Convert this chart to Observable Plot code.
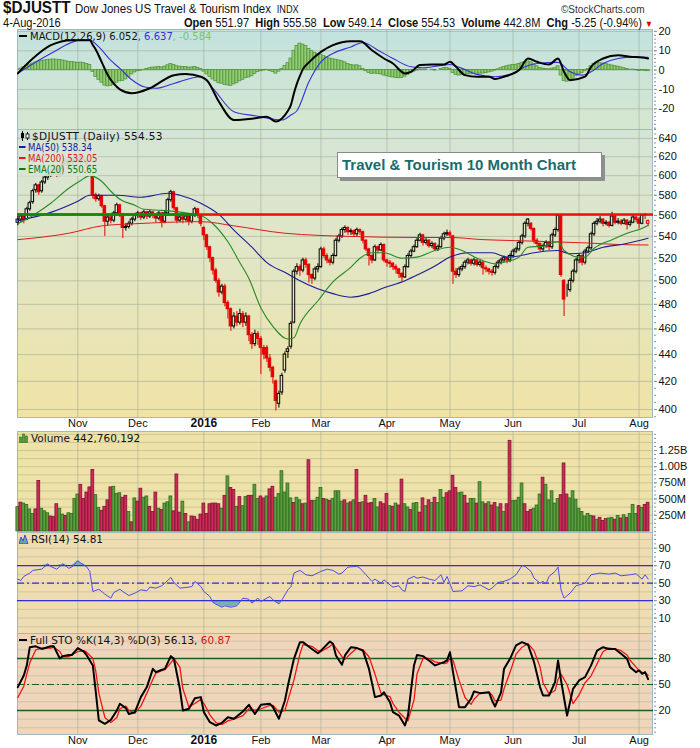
<!DOCTYPE html>
<html>
<head>
<meta charset="utf-8">
<script src="https://cdn.jsdelivr.net/npm/d3@7"></script>
<script src="https://cdn.jsdelivr.net/npm/@observablehq/plot@0.6"></script>
<style>
  html,body{margin:0;padding:0;background:#fff;}
  #chart{position:relative;width:700px;height:748px;overflow:hidden;background:#fff;}
  .bg{position:absolute;left:17px;width:636px;box-sizing:border-box;border:1px solid #a3b9c2;}
  .hdr{position:absolute;white-space:nowrap;font-family:"Liberation Sans Narrow","Liberation Sans",Arial,sans-serif;color:#111;}
  .leg{position:absolute;white-space:nowrap;font:10.5px "DejaVu Sans",Verdana,sans-serif;color:#111;line-height:11px;}
  .dash{display:inline-block;width:8px;height:2px;vertical-align:middle;margin-right:3px;position:relative;top:-1px;}
  .title{position:absolute;left:337px;top:152px;width:265px;height:26px;box-sizing:border-box;background:#fff;border:1px solid #8a8a8a;box-shadow:3px 3px 0 #8f8f8f;font:bold 15px "Liberation Sans",Arial,sans-serif;color:#1b6c6c;line-height:24px;padding-left:4px;white-space:nowrap;}
</style>
</head>
<body>
<div id="chart"></div>
<script>
// ---------------- DATA (trading day index 0 = 5-Oct-2015 ... 210 = 4-Aug-2016) ----------------
const monthTickDays = [20, 40, 62, 81, 101, 123, 144, 165, 187, 207];
const monthTickLabels = ["Nov", "Dec", "2016", "Feb", "Mar", "Apr", "May", "Jun", "Jul", "Aug"];
const boldMonthLabel = "2016";

const open = [553,556,559,556,566,573,585,590,584,593, 598,600,603,606,601,607,612,615,610,616,
  618,614,619,616,611,600,580,576,579,569, 554,558,555,562,570,561,548,549,552,556,
  560,562,558,563,559,563,560,557,562,554, 562,575,583,567,555,558,556,559,554,560,
  566,560,548,541,530,520,509,500,490,495, 481,476,462,470,465,472,465,470,455,448,
  456,452,445,445,437,430,420,404,412,428, 442,446,465,508,512,509,518,514,505,502,
  510,512,528,522,518,516,522,536,540,546, 548,544,545,542,546,544,536,528,522,518,
  530,527,532,518,516,515,512,510,506,503, 512,522,526,530,536,541,534,536,531,533,
  528,530,538,542,543,540,508,505,510,512, 516,518,515,518,514,516,511,510,508,507,
  512,516,518,520,518,522,526,528,534,540, 552,552,547,536,533,528,531,534,530,541,
  546,560,500,492,492,500,508,518,522,516, 526,529,542,552,554,556,552,553,550,559,
  553,554,552,555,551,553,558,556,552,560, 551.97];
const high = [559,561,560,568,574,586,592,591,595,600, 602,605,608,607,609,614,618,616,618,621,
  620,622,621,617,612,603,582,581,580,570, 560,560,564,572,571,562,552,554,558,562,
  564,563,565,564,565,564,561,564,563,564, 577,585,584,568,560,560,561,560,562,568,
  567,561,549,542,531,521,511,502,497,497, 483,477,473,474,476,474,473,471,457,459,
  458,454,447,447,440,431,421,413,426,442, 446,466,510,515,514,520,520,515,506,512,
  515,530,530,524,520,524,538,542,548,550, 549,547,546,548,547,545,537,529,523,532,
  531,534,533,519,518,516,514,511,507,514, 524,528,532,538,543,542,538,537,535,534,
  532,540,544,546,545,541,511,512,514,518, 520,519,520,519,518,517,513,511,510,514,
  518,520,522,521,524,528,530,536,542,554, 557,553,548,538,534,533,536,535,543,548,
  561,561,501,497,502,510,520,524,523,528, 531,544,554,557,559,557,555,554,563,560,
  557,556,557,556,555,561,559,558,561,562, 555.58];
const low = [550,553,552,555,564,571,582,580,582,591, 595,598,600,598,599,605,610,607,609,614,
  611,612,613,609,604,576,573,574,567,540, 550,552,553,560,558,538,545,547,550,554,
  557,555,556,556,557,557,553,555,548,552, 561,573,565,552,553,552,554,550,552,558,
  557,549,536,527,516,505,498,486,488,478, 468,458,460,462,463,461,462,450,444,446,
  447,425,436,434,427,418,399,401,410,426, 437,444,464,505,504,507,511,498,497,500,
  507,511,520,515,513,514,521,534,538,543, 541,541,539,540,541,533,526,513,515,517,
  524,526,516,512,511,509,506,502,499,502, 511,520,525,529,535,531,532,529,529,526,
  526,529,536,540,538,497,502,503,508,510, 514,513,513,512,512,505,507,505,504,505,
  510,514,516,515,516,520,524,526,532,538, 549,545,533,530,526,526,529,527,528,539,
  544,503,470,486,490,498,506,515,513,514, 524,527,540,550,552,549,550,548,549,551,
  551,550,551,546,549,552,553,547,551,556, 549.14];
const close = [556,559,555,566,572,584,590,583,593,598, 600,603,606,601,607,612,615,610,616,618,
  614,619,616,611,607,580,576,579,569,554, 558,555,562,570,561,548,549,552,556,560,
  562,558,563,559,563,560,557,562,554,562, 575,583,567,555,558,556,559,554,560,566,
  560,552,541,530,520,509,500,490,495,481, 476,462,470,465,472,465,470,455,448,456,
  452,445,440,437,430,423,406,411,424,440, 444,464,508,512,509,518,514,505,502,510,
  512,528,522,518,516,522,536,540,546,548, 544,545,542,546,544,536,528,522,518,530,
  527,532,518,516,515,512,510,506,503,512, 522,526,530,536,541,534,536,531,533,528,
  530,538,542,543,541,508,505,510,512,516, 518,515,518,514,516,511,510,508,507,512,
  516,518,520,518,522,526,528,534,540,552, 556,547,536,533,528,531,534,530,541,546,
  560,505,484,492,500,508,518,522,516,526, 529,542,552,554,556,552,553,550,559,553,
  554,552,555,551,553,558,556,552,560,559.78, 554.53];

// volume in millions, and up (G) / down (R) colour of each bar
const volume = [375,445,430,410,340,270,340,780,350,310, 280,230,220,420,350,260,240,280,270,500,
  570,720,500,600,680,950,560,360,320,380, 480,680,690,580,590,520,550,300,140,510,
  460,660,520,540,380,300,600,350,330,430, 450,540,310,880,290,460,270,140,230,220,
  180,260,430,270,420,430,430,420,350,550, 850,670,640,380,530,390,530,550,550,720,
  500,540,510,540,650,690,520,580,930,600, 740,510,440,520,480,420,430,1100,470,470,
  520,670,500,490,470,500,620,620,460,480, 430,450,480,950,440,450,550,430,440,500,
  370,450,420,580,390,380,430,400,800,420, 370,330,430,440,290,510,390,480,440,520,
  440,640,520,590,620,860,670,590,600,550, 430,500,500,430,760,450,420,450,400,440,
  370,420,300,420,1400,470,470,520,740,420, 300,330,350,400,570,830,720,480,620,430,
  500,560,1050,570,510,620,490,350,300,230, 270,240,230,180,210,160,190,200,210,180,
  240,200,250,210,270,410,270,390,360,410, 442.76];
const volumeDir =
  "GRGGGGRRGG" + "GRRRGGRGGG" + "GRRRRRGGRR" + "RRGGGRRGRG" + "RRGGRRRGRG" + "GGRRRGRGRR" +
  "RRRRRRRRGR" + "GRRGRGGRRG" + "GRRGRRGGGG" + "GGRGGRGRRG" + "GGRGRGGGGR" + "GRGRRGRRRG" +
  "GRRRGRGRRG" + "GRGGRRGRGR" + "GGGRRRRGGR" + "RGGRGGRGRR" + "GRGRRGGGGR" + "RRGGGRGGGG" +
  "GRRRGGGGGG" + "GGRGRRRGGR" + "GRGRGGGRGR" + "R";

// MACD(12,26,9): histogram per day, MACD and signal lines read at sample days
const macdHist = [0.0,0.8,1.5,2.2,2.8,3.4,4.0,4.4,4.8,5.0, 5.2,5.4,5.5,5.4,5.3,5.0,4.6,4.3,4.2,4.0,
  3.8,3.9,3.6,3.2,2.6,-1.0,-3.5,-5.0,-6.5,-8.0, -8.4,-8.2,-7.6,-6.5,-5.8,-5.6,-4.8,-3.5,-2.2,-1.2,
  -0.6,-0.3,0.2,0.6,1.0,1.3,1.4,1.6,1.4,1.8, 2.5,3.2,2.6,2.0,1.8,1.6,1.6,1.3,1.4,1.6,
  1.2,0.5,-0.8,-2.2,-3.6,-4.8,-5.8,-6.8,-7.0,-7.6, -7.9,-8.2,-7.4,-6.8,-5.8,-5.0,-4.2,-3.8,-3.2,-2.0,
  -1.0,-0.6,-0.2,0.2,-0.5,-1.0,-1.8,-0.8,0.6,2.2, 3.6,6.0,10.0,12.5,13.7,13.2,12.4,11.0,9.8,9.0,
  8.2,8.0,7.2,6.6,6.0,5.6,5.4,5.0,4.6,4.0, 3.2,2.6,2.4,2.5,2.0,0.6,-0.6,-1.5,-2.0,-1.8,
  -2.0,-2.2,-2.8,-3.2,-3.5,-3.8,-4.0,-4.2,-4.0,-3.4, -2.5,-1.6,-0.8,-0.2,0.4,0.2,0.3,0.0,0.2,-0.2,
  0.0,0.5,1.0,1.2,0.6,-1.5,-2.6,-2.8,-2.6,-2.3, -2.0,-2.2,-2.0,-2.2,-1.8,-1.8,-1.6,-1.2,-0.8,-0.2,
  0.4,1.0,1.6,2.0,2.4,2.6,2.8,3.2,3.8,4.3, 4.5,4.0,3.0,2.0,1.2,0.8,0.6,0.4,0.8,1.0,
  2.0,-2.8,-5.6,-6.0,-5.2,-4.4,-3.2,-2.2,-1.6,-0.6, 0.6,2.0,3.2,3.5,3.6,3.4,3.2,2.8,2.4,2.0,
  1.8,1.4,1.0,0.6,0.2,0.3,-0.1,-0.4,-0.2,-0.4, -0.584];
const macdDay = [0,5,11,18,24,25,26,28,30,32,34,38,44,52,56,61,63,67,72,79,83,86,88,90,91,92,93,94,95,97,101,105,111,114,118,122,125,129,131,134,138,142,144,146,149,153,157,159,162,167,170,173,177,180,182,184,189,191,195,200,204,208,210];
const macdVal = [-1.7,6.0,12.9,15.5,15.5,13.0,10.5,4.0,-2.6,-7.0,-10.0,-12.0,-9.4,-2.6,-2.0,-3.4,-5.2,-16.3,-25.8,-24.9,-24.1,-26.6,-25.0,-21.0,-18.0,-12.0,-7.0,-3.0,0.5,4.0,9.4,12.9,14.9,14.9,10.3,6.0,3.4,-1.7,-0.9,2.6,2.9,2.9,4.3,1.7,-2.6,-3.4,-3.4,-4.6,-3.4,0.0,6.0,4.3,2.9,6.0,-0.9,-5.2,-3.4,1.7,6.0,7.7,6.9,6.5,6.052];
const signalDay = [0,11,21,24,27,31,34,38,42,46,52,61,65,72,79,88,91,93,97,101,105,111,115,120,125,131,135,140,144,148,153,159,164,169,173,180,184,188,191,195,200,205,210];
const signalVal = [-1.7,8.6,15.5,15.5,12.0,5.0,0.9,-5.0,-8.6,-9.4,-6.9,-3.4,-9.4,-21.5,-23.6,-25.8,-23.2,-21.0,-6.0,4.3,8.6,12.0,14.3,10.3,6.0,1.7,1.2,2.2,2.9,0.9,-2.2,-3.4,-2.2,1.7,3.4,4.0,-0.9,-2.6,-0.9,3.4,6.0,6.7,6.637];

// moving averages read at sample days
const ema20Day = [0,5,11,17,21,24,28,31,34,39,42,48,52,57,61,65,70,74,77,81,85,90,92,94,100,105,111,114,118,122,128,133,139,144,148,153,159,163,167,170,175,180,182,187,189,192,198,203,209,210];
const ema20Val = [552,560,572,587,595,600,594,584,576,570,566,565,564,562,560,552,535,516,502,477,462,452,453,464,483,499,512,520,525,525,520,521,527,530,527,520,515,517,521,530,531,535,527,521,521,529,537,543,549,550.65];
const ma50Day = [0,11,20,24,33,41,50,54,61,67,72,78,83,90,94,105,111,117,122,129,133,139,144,150,158,163,167,172,180,184,189,195,202,210];
const ma50Val = [555,563,574,580,580,578,582,580,572,561,546,530,516,506,500,489,486,489,494,500,505,513,521,525,525,521,522,525,527,524,525,530,533,538.34];
const ma200Day = [0,17,28,39,61,72,89,100,111,133,144,155,167,178,189,200,210];
const ma200Val = [537,543,550,552,554,550,543,541,540,539,539,537,536,535,534,532.5,532.05];
const resistanceLevel = 561;
const greenLineStartDay = 0, greenLineEndDay = 60;

// RSI(14)
const rsiDay = [0,1,2,4,5,8,10,11,13,15,17,18,20,21,23,24,25,27,29,31,32,34,35,37,39,41,43,44,46,48,49,51,52,54,56,58,59,61,62,64,65,67,68,69,71,73,75,77,78,80,81,84,85,87,88,90,91,92,94,96,98,101,103,105,107,108,110,113,114,116,118,119,121,122,124,125,127,128,129,130,132,133,135,137,139,141,142,143,145,148,150,152,154,157,158,160,162,164,166,168,169,171,172,174,175,176,177,179,180,181,182,184,186,189,191,194,197,199,201,204,206,208,209,210];
const rsiVal = [54.6,53,57.7,61.5,64.6,66,72,69,66,72,67,68.4,75.7,73,68.4,63.4,40.4,43,37.4,32.8,39.3,43,40.4,35.8,38.5,42.3,41.2,45.4,44.3,47,50,56.5,50.8,44.3,45,46,52,46,40.4,34.7,27.8,24,22.4,24,22.4,24,32.8,31.6,27,32.8,29,34.7,30.8,26.2,30.8,42.3,46,61.5,64.6,59.6,58.4,63.4,66,64.6,60.3,61.5,68.4,69.2,67.2,59.6,52,54.6,50,53.8,48,45.4,47,42.3,40.4,54.6,57.7,55.7,57,54.6,53,59.6,50.8,57.7,40.4,41.2,47,46,48,42.3,44.3,50.8,52,54.6,59.6,70,69.2,63.4,55.7,50,52,49.2,57.7,63.4,68.4,42.3,32.8,38.5,47,50,59.6,61.5,60.3,61.5,58.4,59.6,60.7,54.6,59.6,54.81];

// Full Stochastics %K(14,3) %D(3)
const stoDay = [0,2,3,4,6,8,11,12,14,15,17,18,20,22,23,25,26,27,29,31,33,34,36,37,39,41,43,45,46,48,49,51,52,54,55,57,59,61,62,64,66,68,70,72,75,77,79,81,84,85,87,89,90,92,94,95,98,100,101,104,105,106,108,109,111,113,115,117,119,121,122,124,125,127,129,130,132,133,135,137,139,142,143,144,145,147,149,151,152,154,157,158,159,161,162,164,166,168,170,172,174,175,177,179,180,181,183,185,187,189,191,193,195,197,199,201,203,204,206,207,208,209,210];
const stoK = [46.9,60.4,72,93,94,91,94,94,80,82.7,84,84,92,88,83.5,72,41,8.5,4.6,9.2,20,27.7,22.7,16,18,35.4,47,68,64.2,67,68,82.7,79.6,45,20,22,34.2,35.4,18,6.5,2.7,5.8,12.3,10.4,18.8,26.5,16,26.5,27.7,24,10.4,31.5,48.8,79.6,98.8,98.8,91,86,89,99.6,97,83.5,72.7,83.5,93,92,89,68,35.4,37.3,41,29.6,18,14.2,2.7,14.2,72,84,82.7,77.7,72,75.8,77.7,87.3,64.2,23.8,23.8,33.5,42,40,41,31.5,24.6,41,68,79.6,95,98.8,95.8,75.8,47,37.3,37.3,52.7,77.7,54.6,14.2,45,54.6,58.5,72,89,93,91,91,85.4,79.6,70,64.2,66.2,62.3,64.2,56.13];
const stoD = [35,48,62,75,90,92,92,93,88,82,82,84,88,89,87,80,65,40,12,6,12,22,25,20,17,25,40,56,63,66,67,75,80,70,45,24,28,33,28,15,6,4,8,10,14,22,20,22,26,26,18,20,32,55,85,96,94,89,88,94,97,92,82,79,86,92,90,82,62,40,38,36,28,18,11,8,32,62,80,80,76,74,75,80,78,55,35,27,33,40,41,38,31,32,45,64,85,93,97,89,70,52,39,43,56,62,50,28,38,52,60,74,88,92,91,89,84,78,70,66,64,63,60.87];

// tick values
const priceTicks = [400,420,440,460,480,500,520,540,560,580,600,620,640];
const macdTicks = [-20,-10,0,10,20];
const volumeTicks = [250,500,750,1000,1250];
const rsiTicks = [10,30,50,70,90];
const stoTicks = [20,50,80];

// ---------------- BUILD ----------------
const chart = document.getElementById("chart");
function addDiv(cls, style, html) {
  const d = document.createElement("div");
  d.className = cls;
  Object.assign(d.style, style);
  if (html != null) d.innerHTML = html;
  chart.appendChild(d);
  return d;
}
const X_DOMAIN = [-0.1, 211.8];
const GRID = "#9ea792";
const days = d3.range(close.length);
const pairs = (ds, vs) => ds.map((d, k) => ({d, v: vs[k]}));
const candles = days.map(i => {
  const up = i === 0 ? close[i] >= open[i] : close[i] >= close[i - 1];
  return {i, o: open[i], h: high[i], l: low[i], c: close[i], col: up ? "#000000" : "#e30000", filled: close[i] < open[i]};
});
const vols = days.map(i => ({i, v: volume[i], up: volumeDir[i] === "G"}));
const hist = days.map(i => ({i, v: macdHist[i]}));
const monthLabels = monthTickDays.map((d, k) => ({d, label: monthTickLabels[k]}));

const panels = {
  macd: {top: 29, h: 100, bg: "linear-gradient(#c3e2df, #d5e7cf)"},
  price: {top: 129, h: 288, bg: "linear-gradient(#d4e5d6 0%, #e2e6c4 45%, #f0e3a5 100%)"},
  vol: {top: 431, h: 101, bg: "#efe2a8"},
  rsi: {top: 532, h: 101, bg: "#f0dcb1"},
  sto: {top: 633, h: 101, bg: "#efd6bb"}
};
for (const k in panels) {
  const p = panels[k];
  addDiv("bg", {top: p.top + "px", height: (p.h + 1) + "px", background: p.bg});
}

function panelPlot(p, yOpts, marks, extraBottom = 0) {
  const svg = Plot.plot({
    width: 700, height: p.h + extraBottom,
    marginLeft: 17, marginRight: 47, marginTop: 0, marginBottom: extraBottom,
    x: {domain: X_DOMAIN, axis: null},
    y: {...yOpts, axis: null},
    color: {type: "identity"},
    style: {background: "transparent", fontFamily: "Liberation Sans, Arial, sans-serif", fontSize: "11px", color: "#111", overflow: "visible"},
    marks
  });
  svg.style.position = "absolute";
  svg.style.left = "0px";
  svg.style.top = p.top + "px";
  chart.appendChild(svg);
}
function rightAxis(ticks, fmt, minor) {
  return [
    Plot.axisY({anchor: "right", ticks: minor, tickSize: 2, tickFormat: () => "", stroke: "#7f98a3", label: null}),
    Plot.axisY({anchor: "right", ticks, tickSize: 3, tickPadding: 2, tickFormat: fmt, stroke: "#7f98a3", label: null, fontSize: 11})
  ];
}
const monthRules = Plot.ruleX(monthTickDays, {x: d => d, stroke: GRID, strokeOpacity: 0.55});
const monthText = [
  Plot.text(monthLabels, {x: "d", text: "label", filter: d => d.label !== boldMonthLabel, frameAnchor: "bottom", dy: 9, fontSize: 11, fill: "#111"}),
  Plot.text(monthLabels, {x: "d", text: "label", filter: d => d.label === boldMonthLabel, frameAnchor: "bottom", dy: 9, fontSize: 12, fontWeight: "bold", fill: "#111"})
];

// MACD panel
panelPlot(panels.macd, {domain: [-30.7, 21.0]}, [
  Plot.ruleY(macdTicks, {y: d => d, stroke: GRID, strokeOpacity: 0.55}),
  monthRules,
  Plot.rectY(hist, {x1: d => d.i - 0.5, x2: d => d.i + 0.5, y: "v", fill: "#92cd74", stroke: "#4d8d37", strokeWidth: 0.7}),
  Plot.line(pairs(signalDay, signalVal), {x: "d", y: "v", stroke: "#3a2fd6", strokeWidth: 1.1, curve: "monotone-x", clip: true}),
  Plot.line(pairs(macdDay, macdVal), {x: "d", y: "v", stroke: "#000", strokeWidth: 2, curve: "monotone-x", clip: true}),
  ...rightAxis(macdTicks, d => d, d3.range(-30, 21, 2))
]);

// Price panel
panelPlot(panels.price, {type: "log", domain: [394.5, 650]}, [
  Plot.ruleY(priceTicks, {y: d => d, stroke: GRID, strokeOpacity: 0.55}),
  monthRules,
  Plot.ruleX(candles, {x: "i", y1: d => Math.max(d.o, d.c), y2: "h", stroke: "col", strokeWidth: 1}),
  Plot.ruleX(candles, {x: "i", y1: "l", y2: d => Math.min(d.o, d.c), stroke: "col", strokeWidth: 1}),
  Plot.rect(candles, {x1: d => d.i - 0.42, x2: d => d.i + 0.42, y1: d => Math.min(d.o, d.c), y2: d => Math.max(d.o, d.c), fill: d => d.filled ? d.col : "none", stroke: "col", strokeWidth: 1}),
  Plot.line(pairs(ma200Day, ma200Val), {x: "d", y: "v", stroke: "#e01a1a", strokeWidth: 1, curve: "monotone-x"}),
  Plot.line(pairs(ma50Day, ma50Val), {x: "d", y: "v", stroke: "#1c1c96", strokeWidth: 1.1, curve: "monotone-x"}),
  Plot.line(pairs(ema20Day, ema20Val), {x: "d", y: "v", stroke: "#268a26", strokeWidth: 1.1, curve: "monotone-x"}),
  Plot.ruleY([resistanceLevel], {y: d => d, stroke: "#ee0f0f", strokeWidth: 2.5}),
  Plot.ruleY([{y: resistanceLevel, x1: greenLineStartDay, x2: greenLineEndDay}], {y: "y", x1: "x1", x2: "x2", stroke: "#0e8c0e", strokeWidth: 2.5}),
  ...rightAxis(priceTicks, d => String(d), d3.range(395, 651, 5)),
  ...monthText
], 14);

// Volume panel
panelPlot(panels.vol, {domain: [-17, 1544]}, [
  Plot.ruleY(d3.range(125, 1501, 125), {y: d => d, stroke: GRID, strokeOpacity: 0.45}),
  monthRules,
  Plot.rectY(vols, {x1: d => d.i - 0.47, x2: d => d.i + 0.47, y: "v", fill: d => d.up ? "#5c9f3d" : "#cf2b58", stroke: d => d.up ? "#2d6a1e" : "#7f1232", strokeWidth: 0.8}),
  ...rightAxis(volumeTicks, d => d >= 1000 ? (d / 1000).toFixed(2) + "B" : d + "M", d3.range(0, 1544, 62.5))
]);

// RSI panel
const rsi = pairs(rsiDay, rsiVal);
panelPlot(panels.rsi, {domain: [-7.7, 108]}, [
  Plot.ruleY(d3.range(0, 101, 10), {y: d => d, stroke: GRID, strokeOpacity: 0.4}),
  monthRules,
  Plot.areaY(rsi, {x: "d", y1: 70, y2: d => Math.max(d.v, 70), fill: "#5faaa8", fillOpacity: 0.85}),
  Plot.areaY(rsi, {x: "d", y1: 30, y2: d => Math.min(d.v, 30), fill: "#5faaa8", fillOpacity: 0.85}),
  Plot.ruleY([70, 30], {y: d => d, stroke: "#2f2fd8", strokeWidth: 1.4}),
  Plot.ruleY([50], {y: d => d, stroke: "#2f2fd8", strokeWidth: 1.2, strokeDasharray: "7,3,2,3"}),
  Plot.line(rsi, {x: "d", y: "v", stroke: "#4d4de6", strokeWidth: 1}),
  ...rightAxis(rsiTicks, d => d, d3.range(-5, 108, 5))
]);

// Stochastics panel
panelPlot(panels.sto, {domain: [-7.7, 108.8]}, [
  Plot.ruleY(d3.range(0, 101, 10), {y: d => d, stroke: GRID, strokeOpacity: 0.4}),
  monthRules,
  Plot.ruleY([80, 20], {y: d => d, stroke: "#1d5d1d", strokeWidth: 1.4}),
  Plot.ruleY([50], {y: d => d, stroke: "#1d5d1d", strokeWidth: 1.2, strokeDasharray: "7,3,2,3"}),
  Plot.line(pairs(stoDay, stoD), {x: "d", y: "v", stroke: "#f01414", strokeWidth: 1.3}),
  Plot.line(pairs(stoDay, stoK), {x: "d", y: "v", stroke: "#000", strokeWidth: 2}),
  ...rightAxis(stoTicks, d => d, d3.range(-5, 108, 5)),
  ...monthText
], 14);

// ---------------- TEXT OVERLAYS ----------------
addDiv("hdr", {left: "3px", top: "0px", fontSize: "16px", lineHeight: "15px", height: "15px", fontWeight: "bold", transform: "scaleX(0.95)", transformOrigin: "left top"}, "$DJUSTT");
addDiv("hdr", {left: "75px", top: "3px", fontSize: "12.5px", lineHeight: "12px", height: "12px", transform: "scaleX(0.92)", transformOrigin: "left top"}, "Dow Jones US Travel &amp; Tourism Index <span style='font-size:10px'>&nbsp;INDX</span>");
addDiv("hdr", {left: "561px", top: "4px", fontSize: "10px", lineHeight: "11px", height: "11px", color: "#333", fontFamily: "Liberation Sans, Arial, sans-serif"}, "&copy;StockCharts.com");
addDiv("hdr", {left: "3px", top: "18px", fontSize: "12px", lineHeight: "11px", height: "11px", transform: "scaleX(0.92)", transformOrigin: "left top"}, "4-Aug-2016");
addDiv("hdr", {right: "47px", top: "18px", fontSize: "12.5px", lineHeight: "11px", height: "11px", transform: "scaleX(0.885)", transformOrigin: "right top"},
  "<b>Open</b> 551.97 &nbsp;<b>High</b> 555.58 &nbsp;<b>Low</b> 549.14 &nbsp;<b>Close</b> 554.53 &nbsp;<b>Volume</b> 442.8M &nbsp;<b>Chg</b> -5.25 (-0.94%) <span style='color:#d00;font-size:9px'>&#9660;</span>");

addDiv("leg", {left: "19px", top: "31px", fontSize: "10px"},
  "<span class='dash' style='background:#000'></span>MACD(12,26,9) 6.052<span style='color:#3a2fd6'>, 6.637</span><span style='color:#7cc46a'>, -0.584</span>");

addDiv("", {position: "absolute", left: "18px", top: "142px", width: "80px", height: "34px", background: "rgba(214,229,212,0.92)"});
const candleIcon = "<svg width='10' height='10' style='vertical-align:-1px;margin-right:2px'><line x1='2.5' y1='0' x2='2.5' y2='10' stroke='#000'/><rect x='1' y='2' width='3' height='5' fill='#000'/><line x1='7.5' y1='1' x2='7.5' y2='9' stroke='#000'/><rect x='6' y='3' width='3' height='4' fill='#fff' stroke='#000' stroke-width='0.8'/></svg>";
addDiv("leg", {left: "20px", top: "131px", letterSpacing: "0.35px"}, candleIcon + "$DJUSTT (Daily) 554.53");
const maStyle = {transform: "scaleX(0.82)", transformOrigin: "left top"};
addDiv("leg", {left: "19px", top: "142px", color: "#1c1c96", ...maStyle}, "<span class='dash' style='background:#1c1c96'></span>MA(50) 538.34");
addDiv("leg", {left: "19px", top: "153px", color: "#e01a1a", ...maStyle}, "<span class='dash' style='background:#e01a1a'></span>MA(200) 532.05");
addDiv("leg", {left: "19px", top: "164px", color: "#157515", ...maStyle}, "<span class='dash' style='background:#157515'></span>EMA(20) 550.65");

const volIcon = "<svg width='10' height='10' style='vertical-align:-1px;margin-right:2px'><rect x='0.5' y='4' width='2' height='6' fill='#5c9f3d' stroke='#2d6a1e' stroke-width='0.6'/><rect x='3.5' y='1' width='2' height='9' fill='#5c9f3d' stroke='#2d6a1e' stroke-width='0.6'/><rect x='6.5' y='3' width='2' height='7' fill='#5c9f3d' stroke='#2d6a1e' stroke-width='0.6'/></svg>";
addDiv("leg", {left: "19px", top: "433px"}, volIcon + "Volume 442,760,192");
const rsiIcon = "<svg width='10' height='10' style='vertical-align:-1px;margin-right:2px'><path d='M0,10 L2,3 L4,7 L6,1 L9,10 Z' fill='#5faaa8' stroke='#2f2fd8' stroke-width='0.8'/></svg>";
addDiv("leg", {left: "19px", top: "534px"}, rsiIcon + "RSI(14) 54.81");
addDiv("leg", {left: "19px", top: "635px"},
  "<span class='dash' style='background:#000'></span>Full STO %K(14,3) %D(3) 56.13, <span style='color:#e01010'>60.87</span>");

addDiv("title", {}, "Travel &amp; Tourism 10 Month Chart");
</script>
</body>
</html>
